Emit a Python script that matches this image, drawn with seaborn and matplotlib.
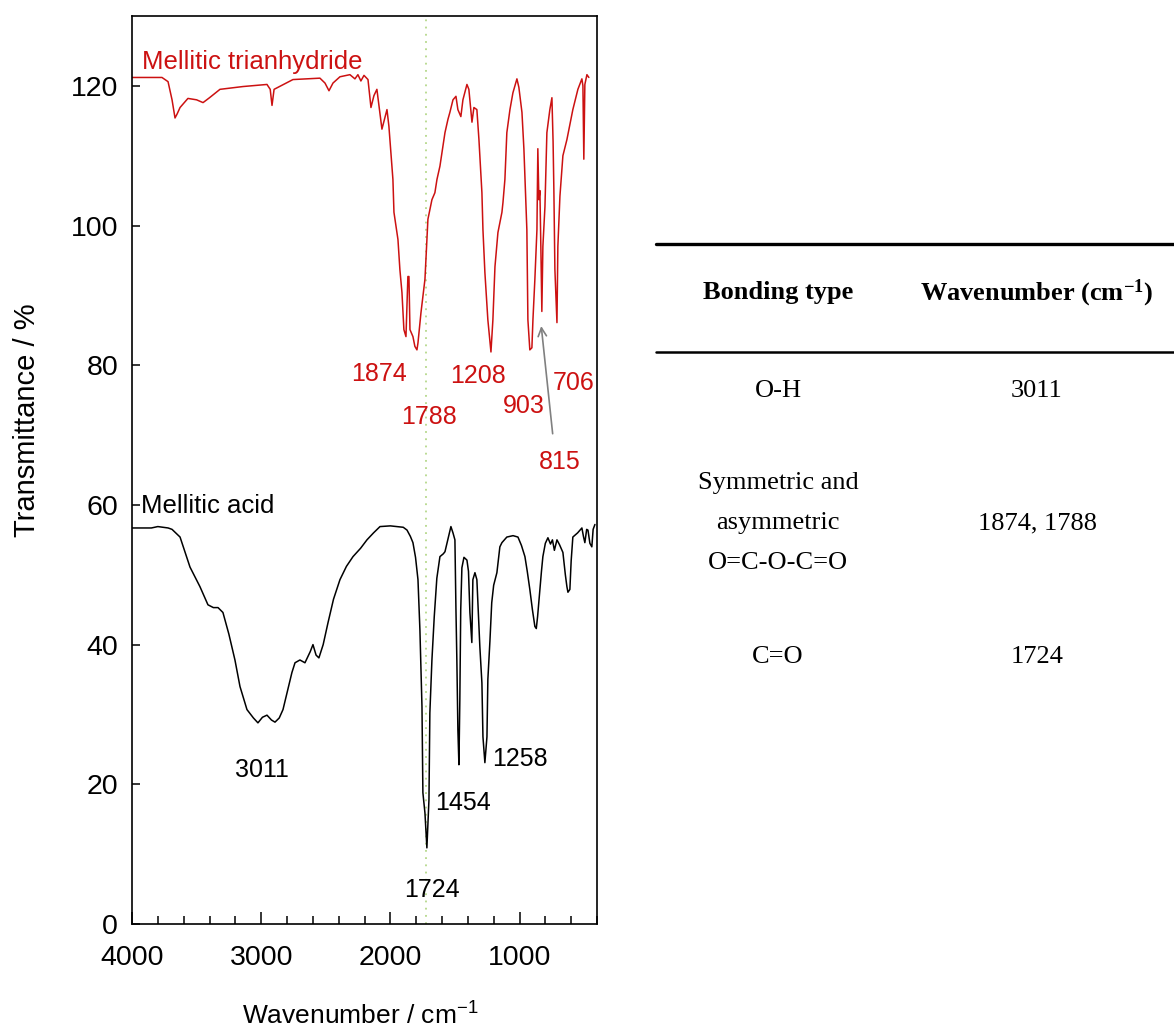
import numpy as np
import pandas as pd
import matplotlib
matplotlib.use("Agg")
import matplotlib.pyplot as plt
from matplotlib.ticker import MultipleLocator
from matplotlib.lines import Line2D
import seaborn as sns

# ---------------- data ----------------
anhydride_wn = [4000, 3768, 3721, 3690, 3667, 3650, 3628, 3567, 3500, 3450, 3400, 3319, 3141,
                2955, 2930, 2916, 2900, 2754, 2545, 2506, 2475, 2444, 2390, 2313, 2274, 2251,
                2228, 2204, 2173, 2150, 2127, 2104, 2065, 2026, 2011, 1980, 1972, 1941, 1926,
                1910, 1895, 1879, 1864, 1856, 1848, 1825, 1810, 1794, 1786, 1763, 1732, 1709,
                1678, 1655, 1639, 1616, 1577, 1554, 1539, 1515, 1492, 1477, 1454, 1438, 1407,
                1392, 1368, 1353, 1330, 1314, 1291, 1283, 1268, 1245, 1221, 1206, 1190, 1167,
                1136, 1128, 1113, 1098, 1074, 1051, 1020, 1005, 981, 966, 943, 935, 920, 904,
                896, 881, 865, 858, 850, 842, 834, 827, 819, 803, 788, 765, 749, 740, 734, 726,
                710, 703, 687, 664, 633, 587, 548, 517, 509, 502, 494, 478, 463]
anhydride_T = [121.2, 121.2, 120.6, 118.0, 115.4, 116.0, 116.9, 118.2, 118.0, 117.6, 118.3, 119.5, 119.9,
               120.2, 119.5, 117.2, 119.5, 120.9, 121.1, 120.4, 119.3, 120.4, 121.3, 121.6, 121.0, 121.6,
               120.7, 121.5, 120.9, 116.9, 118.6, 119.5, 113.8, 116.6, 114.2, 106.6, 101.9, 98.0, 93.7,
               90.4, 85.1, 84.1, 92.7, 92.7, 85.1, 84.1, 82.7, 82.2, 83.2, 87.5, 92.3, 100.9,
               103.7, 104.7, 106.6, 108.5, 113.3, 115.2, 116.2, 118.0, 118.5, 116.6, 115.6, 118.0, 120.2,
               119.5, 114.8, 116.9, 116.6, 112.3, 104.7, 99.4, 93.3, 86.5, 81.9, 86.5, 94.1, 99.0,
               101.9, 103.3, 106.6, 113.3, 116.6, 119.0, 121.0, 119.8, 116.2, 111.0, 99.4, 86.5, 82.2, 82.5,
               86.5, 92.3, 99.4, 111.0, 103.7, 105.0, 96.1, 87.7, 97.0, 102.7, 113.3, 116.6, 118.3, 112.0, 105.2, 93.7,
               86.1, 97.0, 104.2, 110.0, 112.3, 116.6, 119.5, 121.0, 120.0, 109.5, 120.2, 121.6, 121.2]

acid_wn = [4000, 3850, 3800, 3720, 3690, 3628, 3551, 3474, 3412, 3370, 3334, 3296, 3250, 3203,
           3164, 3110, 3060, 3025, 2990, 2955, 2920, 2893, 2860, 2831, 2762, 2738, 2700, 2661,
           2620, 2599, 2575, 2553, 2520, 2483, 2440, 2390, 2340, 2289, 2230, 2181, 2130, 2080,
           2000, 1949, 1900, 1871, 1845, 1825, 1805, 1786, 1771, 1755, 1748, 1732, 1717, 1701,
           1694, 1678, 1660, 1640, 1616, 1590, 1577, 1555, 1531, 1515, 1500, 1492, 1485, 1477,
           1469, 1462, 1455, 1446, 1430, 1407, 1395, 1384, 1369, 1361, 1345, 1330, 1307, 1291,
           1283, 1268, 1252, 1245, 1229, 1215, 1200, 1175, 1152, 1136, 1098, 1050, 1012, 985,
           958, 940, 920, 900, 881, 870, 860, 842, 830, 819, 800, 780, 760, 745, 730, 710,
           690, 664, 645, 633, 625, 610, 600, 587, 550, 517, 505, 494, 480, 470, 455, 440,
           430, 416]
acid_T = [56.7, 56.7, 56.9, 56.7, 56.5, 55.4, 51.1, 48.3, 45.7, 45.3, 45.3, 44.6, 41.5, 37.8,
          34.0, 30.7, 29.5, 28.8, 29.6, 29.9, 29.2, 28.9, 29.5, 30.7, 36.0, 37.4, 37.8, 37.4,
          39.0, 40.0, 38.5, 38.1, 40.0, 43.1, 46.5, 49.3, 51.2, 52.6, 53.8, 55.0, 56.0, 56.9,
          57.0, 56.9, 56.8, 56.4, 55.5, 54.6, 52.5, 49.3, 42.1, 31.1, 18.8, 15.9, 10.9, 17.8,
          30.2, 37.8, 44.0, 49.5, 52.6, 53.0, 53.3, 55.0, 56.9, 56.0, 55.0, 45.0, 37.8, 27.8,
          22.8, 32.0, 45.0, 51.0, 52.5, 52.1, 50.5, 44.6, 40.3, 49.3, 50.3, 49.3, 39.7, 34.5,
          26.8, 23.1, 26.8, 35.0, 40.5, 46.0, 48.5, 50.3, 54.0, 54.6, 55.4, 55.6, 55.4, 54.2,
          52.6, 50.5, 47.9, 45.0, 42.6, 42.3, 44.0, 47.9, 50.5, 52.6, 54.5, 55.3, 54.4, 55.0, 53.5, 55.0,
          54.3, 53.2, 50.0, 48.3, 47.5, 47.9, 52.0, 55.4, 56.0, 56.7, 55.5, 54.6, 56.5, 56.4, 54.5, 54.0,
          56.5, 57.2]

anhydride_peaks = ["1874", "1788", "1208", "903", "706", "815"]
anhydride_peak_pos = [(2088, 78.8), (1701, 72.6), (1322, 78.5), (966, 74.1), (579, 77.5), (687, 66.2)]
acid_peaks = ["3011", "1724", "1454", "1258"]
acid_peak_pos = [(2994, 22.1), (1678, 4.9), (1438, 17.3), (997, 23.6)]

table_header = ["Bonding type", "Wavenumber (cm$^{-1}$)"]
table_bonds = ["O-H", "Symmetric and\nasymmetric\nO=C-O-C=O", "C=O"]
table_wavenumbers = ["3011", "1874, 1788", "1724"]

# ---------------- figure ----------------
sns.set_style("ticks")
plt.rcParams["font.family"] = ["Liberation Sans", "DejaVu Sans"]
plt.rcParams["mathtext.default"] = "regular"
plt.rcParams["text.color"] = "black"
plt.rcParams["axes.labelcolor"] = "black"

fig = plt.figure(figsize=(11.74, 10.30), dpi=100)
ax = fig.add_axes([132 / 1174, 1 - 924 / 1030, 465 / 1174, 908 / 1030])

red = "#cc1111"
df_a = pd.DataFrame({"wn": anhydride_wn, "T": anhydride_T})
df_b = pd.DataFrame({"wn": acid_wn, "T": acid_T})
sns.lineplot(data=df_a, x="wn", y="T", ax=ax, color=red, lw=1.1, sort=False, estimator=None)
sns.lineplot(data=df_b, x="wn", y="T", ax=ax, color="black", lw=1.1, sort=False, estimator=None)

ax.axvline(1724, color="#b5d88a", ls=(0, (1, 3)), lw=1.3, zorder=0)

ax.set_xlim(4000, 400)
ax.set_ylim(0, 130)
ax.set_xticks([4000, 3000, 2000, 1000])
ax.xaxis.set_minor_locator(MultipleLocator(200))
ax.set_yticks([0, 20, 40, 60, 80, 100, 120])
ax.tick_params(axis="both", which="both", direction="in", colors="black", labelsize=20.5)
ax.tick_params(axis="x", which="major", length=9, width=1.1, pad=15)
ax.tick_params(axis="x", which="minor", length=6, width=1.1)
ax.tick_params(axis="y", which="major", length=6, width=1.1, pad=10)
for s in ax.spines.values():
    s.set_visible(True)
    s.set_linewidth(1.2)
    s.set_color("black")

ax.set_xlabel("Wavenumber / cm$^{-1}$", fontsize=19, color="black")
ax.set_ylabel("Transmittance / %", fontsize=21, color="black")
ax.xaxis.set_label_coords(0.49, -0.086)
ax.yaxis.set_label_coords(-0.195, 0.555)

ax.text(3923, 123.4, "Mellitic trianhydride", color=red, fontsize=18.5, ha="left", va="center")
ax.text(3930, 59.9, "Mellitic acid", color="black", fontsize=18.5, ha="left", va="center")

for lab, (x, y) in zip(anhydride_peaks, anhydride_peak_pos):
    ax.text(x, y, lab, color=red, fontsize=18, ha="center", va="center")
for lab, (x, y) in zip(acid_peaks, acid_peak_pos):
    ax.text(x, y, lab, color="black", fontsize=18, ha="center", va="center")

ax.annotate("", xy=(834, 86.0), xytext=(741, 69.8),
            arrowprops=dict(arrowstyle="->", color="grey", lw=1.2, mutation_scale=15))

# ---------------- table ----------------
def fx(px):
    return px / 1174

def fy(py):
    return 1 - py / 1030

fig.add_artist(Line2D([fx(656), fx(1174)], [fy(244), fy(244)], color="black", lw=2.4))
fig.add_artist(Line2D([fx(656), fx(1174)], [fy(352), fy(352)], color="black", lw=1.8))

serif = ["Liberation Serif", "DejaVu Serif"]
col_x = [778, 1037]
fig.text(fx(col_x[0]), fy(293), table_header[0], family=serif, fontsize=19, weight="bold",
         ha="center", va="center", color="black")
fig.text(fx(col_x[1]), fy(293), table_header[1], family=serif, fontsize=19, weight="bold",
         ha="center", va="center", color="black")

row_y = [391, 523, 657]
for bond, wn, y in zip(table_bonds, table_wavenumbers, row_y):
    fig.text(fx(col_x[0]), fy(y), bond, family=serif, fontsize=19, ha="center", va="center",
             linespacing=2.05, color="black")
    fig.text(fx(col_x[1]), fy(y), wn, family=serif, fontsize=19, ha="center", va="center",
             color="black")

fig.savefig("out.png", dpi=100)
